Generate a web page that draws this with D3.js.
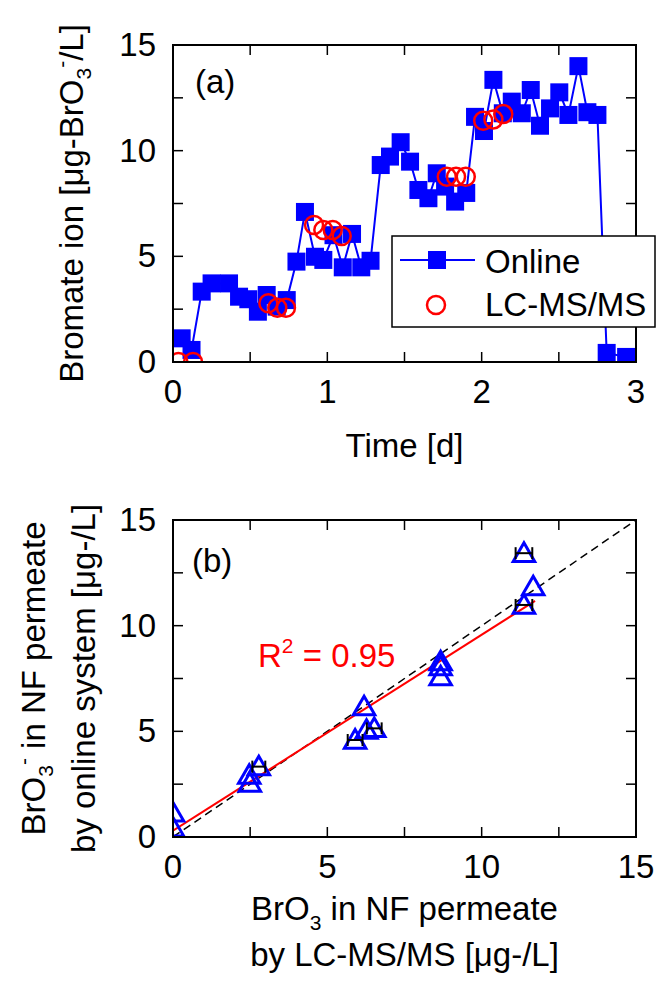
<!DOCTYPE html>
<html>
<head>
<meta charset="utf-8">
<script src="https://cdn.jsdelivr.net/npm/d3@7"></script>
<style>
  body { margin: 0; background: #fff; }
  svg { font-family: Arial, "Liberation Sans", sans-serif; }
</style>
</head>
<body>
<svg id="chart" width="657" height="994"></svg>
<script>
/* panel (a): online monitoring */
const timeOnline = [0.056, 0.12, 0.186, 0.25, 0.363, 0.428, 0.488, 0.55, 0.607, 0.672, 0.737,
  0.80, 0.855, 0.92, 0.974, 1.04, 1.10, 1.16, 1.22, 1.28, 1.346, 1.406, 1.475, 1.536, 1.59,
  1.655, 1.709, 1.763, 1.828, 1.90, 1.957, 2.015, 2.076, 2.137, 2.195, 2.26, 2.318, 2.378,
  2.443, 2.503, 2.562, 2.627, 2.685, 2.75, 2.81, 2.936];
const bromateOnline = [1.12, 0.57, 3.33, 3.72, 3.72, 3.09, 2.97, 2.38, 3.17, 2.62, 2.93,
  4.75, 7.1, 4.98, 4.83, 6.0, 4.48, 6.06, 4.48, 4.79, 9.32, 9.72, 10.4, 9.48, 8.14,
  7.75, 8.93, 8.3, 7.59, 8.0, 11.6, 10.93, 13.35, 11.77, 12.32, 11.77, 12.87, 11.18,
  12.0, 12.76, 11.69, 14.0, 11.82, 11.69, 0.43, 0.24];
const timeLC = [0.035, 0.13, 0.618, 0.676, 0.732, 0.914, 0.974, 1.035, 1.093,
  1.774, 1.834, 1.897, 2.01, 2.076, 2.14];
const bromateLC = [0, 0, 2.78, 2.57, 2.57, 6.48, 6.25, 6.25, 5.96,
  8.77, 8.77, 8.77, 11.42, 11.48, 11.73];

/* panel (b): online vs LC-MS/MS */
const lcmsB = [0, 0, 2.47, 2.49, 2.78, 5.9, 6.19, 6.27, 6.52, 8.67, 8.67, 8.67, 11.37, 11.67, 11.37];
const onlineB = [1.14, 0.43, 2.93, 2.55, 3.33, 4.59, 6.17, 5.06, 5.14, 8.3, 8.06, 7.59, 13.43, 11.85, 10.98];
const lcmsErr = [0, 0, 0, 0, 0.21, 0.24, 0, 0, 0.24, 0, 0, 0, 0.27, 0, 0.27];
const fitCoef = [0.927, 0.30]; // slope, intercept
const fitRange = [0, 11.73];

const xTicksA = [0, 1, 2, 3];
const xTicksB = [0, 5, 10, 15];
const yTicks = [0, 5, 10, 15];

const svg = d3.select('#chart');
const left = 173;
const right = 636;
const fontSize = 33;
const subSize = 21;
const blue = '#0000ff';
const red = '#ff0000';

const frame = (g, x, y, minorX, minorY) => {
  const [x0, x1] = x.range();
  const [y0, y1] = y.range();
  minorX.forEach((v) => {
    g.append('line').attr('x1', x(v)).attr('x2', x(v)).attr('y1', y0).attr('y2', y0 - 10)
      .attr('stroke', '#000').attr('stroke-width', 1.5);
    g.append('line').attr('x1', x(v)).attr('x2', x(v)).attr('y1', y1).attr('y2', y1 + 10)
      .attr('stroke', '#000').attr('stroke-width', 1.5);
  });
  minorY.forEach((v) => {
    g.append('line').attr('x1', x0).attr('x2', x0 + 10).attr('y1', y(v)).attr('y2', y(v))
      .attr('stroke', '#000').attr('stroke-width', 1.5);
    g.append('line').attr('x1', x1).attr('x2', x1 - 10).attr('y1', y(v)).attr('y2', y(v))
      .attr('stroke', '#000').attr('stroke-width', 1.5);
  });
  g.append('rect')
    .attr('x', x0).attr('y', y1)
    .attr('width', x1 - x0).attr('height', y0 - y1)
    .attr('fill', 'none').attr('stroke', '#000').attr('stroke-width', 2);
};

const yTickLabels = (g, y) => {
  g.selectAll('.ytl').data(yTicks).join('text')
    .attr('x', 156).attr('y', (d) => y(d) + 11)
    .attr('text-anchor', 'end').attr('font-size', fontSize)
    .text((d) => d);
};

/* ---------- panel (a) ---------- */
const xA = d3.scaleLinear().domain([0, 3]).range([left, right]);
const yA = d3.scaleLinear().domain([0, 15]).range([362, 45]);
const gA = svg.append('g');

svg.append('clipPath').attr('id', 'clipA').append('rect')
  .attr('x', left).attr('y', 45).attr('width', right - left).attr('height', 317);

const plotA = gA.append('g').attr('clip-path', 'url(#clipA)');
const online = timeOnline.map((t, i) => [t, bromateOnline[i]]);
plotA.append('path')
  .attr('d', d3.line().x((d) => xA(d[0])).y((d) => yA(d[1]))(online))
  .attr('fill', 'none').attr('stroke', blue).attr('stroke-width', 2);
plotA.selectAll('.sq').data(online).join('rect')
  .attr('x', (d) => xA(d[0]) - 9).attr('y', (d) => yA(d[1]) - 9)
  .attr('width', 18).attr('height', 18).attr('fill', blue);
plotA.selectAll('.lc').data(timeLC.map((t, i) => [t, bromateLC[i]])).join('circle')
  .attr('cx', (d) => xA(d[0])).attr('cy', (d) => yA(d[1])).attr('r', 9)
  .attr('fill', 'none').attr('stroke', red).attr('stroke-width', 2.5);

frame(gA, xA, yA, d3.range(0, 3.01, 0.5), d3.range(0, 15.01, 2.5));
yTickLabels(gA, yA);
gA.selectAll('.xtl').data(xTicksA).join('text')
  .attr('x', (d) => xA(d)).attr('y', 403)
  .attr('text-anchor', 'middle').attr('font-size', fontSize)
  .text((d) => d);
gA.append('text').attr('x', xA(1.5)).attr('y', 457)
  .attr('text-anchor', 'middle').attr('font-size', fontSize).text('Time [d]');
gA.append('text').attr('x', 195).attr('y', 93).attr('font-size', fontSize).text('(a)');

const yLabA = gA.append('text')
  .attr('transform', `translate(83, ${(45 + 362) / 2}) rotate(-90)`)
  .attr('text-anchor', 'middle').attr('font-size', fontSize);
yLabA.append('tspan').text('Bromate ion [μg-BrO');
yLabA.append('tspan').attr('font-size', subSize).attr('dy', 8).text('3');
yLabA.append('tspan').attr('font-size', subSize).attr('dy', -22).text('-');
yLabA.append('tspan').attr('dy', 14).text('/L]');

/* legend */
const leg = gA.append('g');
leg.append('rect').attr('x', 392).attr('y', 236).attr('width', 263).attr('height', 91)
  .attr('fill', '#fff').attr('stroke', '#000').attr('stroke-width', 1.5);
leg.append('line').attr('x1', 400).attr('x2', 475).attr('y1', 260).attr('y2', 260)
  .attr('stroke', blue).attr('stroke-width', 2);
leg.append('rect').attr('x', 428).attr('y', 251).attr('width', 18).attr('height', 18).attr('fill', blue);
leg.append('circle').attr('cx', 436).attr('cy', 305).attr('r', 9)
  .attr('fill', 'none').attr('stroke', red).attr('stroke-width', 2.5);
leg.append('text').attr('x', 485).attr('y', 273).attr('font-size', fontSize).text('Online');
leg.append('text').attr('x', 485).attr('y', 316).attr('font-size', fontSize).text('LC-MS/MS');

/* ---------- panel (b) ---------- */
const xB = d3.scaleLinear().domain([0, 15]).range([left, right]);
const yB = d3.scaleLinear().domain([0, 15]).range([837, 520]);
const gB = svg.append('g');

svg.append('clipPath').attr('id', 'clipB').append('rect')
  .attr('x', left).attr('y', 520).attr('width', right - left).attr('height', 317);
const plotB = gB.append('g').attr('clip-path', 'url(#clipB)');

plotB.append('line')
  .attr('x1', xB(0)).attr('y1', yB(0)).attr('x2', xB(15)).attr('y2', yB(15))
  .attr('stroke', '#000').attr('stroke-width', 1.5).attr('stroke-dasharray', '8,5');
plotB.append('line')
  .attr('x1', xB(fitRange[0])).attr('y1', yB(fitCoef[0] * fitRange[0] + fitCoef[1]))
  .attr('x2', xB(fitRange[1])).attr('y2', yB(fitCoef[0] * fitRange[1] + fitCoef[1]))
  .attr('stroke', red).attr('stroke-width', 2);

const pts = lcmsB.map((x, i) => ({ x, y: onlineB[i], e: lcmsErr[i] }));
const tri = d3.symbol().type(d3.symbolTriangle).size(200);
plotB.selectAll('.tri').data(pts).join('path')
  .attr('d', tri)
  .attr('transform', (d) => `translate(${xB(d.x)}, ${yB(d.y) + 2})`)
  .attr('fill', 'none').attr('stroke', blue).attr('stroke-width', 3);
const eb = plotB.selectAll('.eb').data(pts.filter((d) => d.e > 0)).join('g')
  .attr('stroke', '#000').attr('stroke-width', 2);
eb.append('line')
  .attr('x1', (d) => xB(d.x - d.e)).attr('x2', (d) => xB(d.x + d.e))
  .attr('y1', (d) => yB(d.y)).attr('y2', (d) => yB(d.y));
eb.append('line')
  .attr('x1', (d) => xB(d.x - d.e)).attr('x2', (d) => xB(d.x - d.e))
  .attr('y1', (d) => yB(d.y) - 6).attr('y2', (d) => yB(d.y) + 6);
eb.append('line')
  .attr('x1', (d) => xB(d.x + d.e)).attr('x2', (d) => xB(d.x + d.e))
  .attr('y1', (d) => yB(d.y) - 6).attr('y2', (d) => yB(d.y) + 6);

frame(gB, xB, yB, d3.range(0, 15.01, 2.5), d3.range(0, 15.01, 2.5));
yTickLabels(gB, yB);
gB.selectAll('.xtl').data(xTicksB).join('text')
  .attr('x', (d) => xB(d)).attr('y', 878)
  .attr('text-anchor', 'middle').attr('font-size', fontSize)
  .text((d) => d);
gB.append('text').attr('x', 192).attr('y', 572).attr('font-size', fontSize).text('(b)');

const r2 = gB.append('text').attr('x', 258).attr('y', 667)
  .attr('font-size', fontSize).attr('fill', red);
r2.append('tspan').text('R');
r2.append('tspan').attr('font-size', subSize).attr('dy', -14).text('2');
r2.append('tspan').attr('dy', 14).text(' = 0.95');

const xLabB1 = gB.append('text').attr('x', xB(7.5)).attr('y', 920)
  .attr('text-anchor', 'middle').attr('font-size', fontSize);
xLabB1.append('tspan').text('BrO');
xLabB1.append('tspan').attr('font-size', subSize).attr('dy', 10).text('3');
xLabB1.append('tspan').attr('dy', -10).text(' in NF permeate');
gB.append('text').attr('x', xB(7.5)).attr('y', 966)
  .attr('text-anchor', 'middle').attr('font-size', fontSize)
  .text('by LC-MS/MS [μg-/L]');

const yLabB1 = gB.append('text')
  .attr('transform', `translate(45, ${(520 + 837) / 2}) rotate(-90)`)
  .attr('text-anchor', 'middle').attr('font-size', fontSize);
yLabB1.append('tspan').text('BrO');
yLabB1.append('tspan').attr('font-size', subSize).attr('dy', 8).text('3');
yLabB1.append('tspan').attr('font-size', subSize).attr('dy', -22).text('-');
yLabB1.append('tspan').attr('dy', 14).text(' in NF permeate');
gB.append('text')
  .attr('transform', `translate(95, ${(520 + 837) / 2}) rotate(-90)`)
  .attr('text-anchor', 'middle').attr('font-size', fontSize)
  .text('by online system [μg-/L]');
</script>
</body>
</html>
